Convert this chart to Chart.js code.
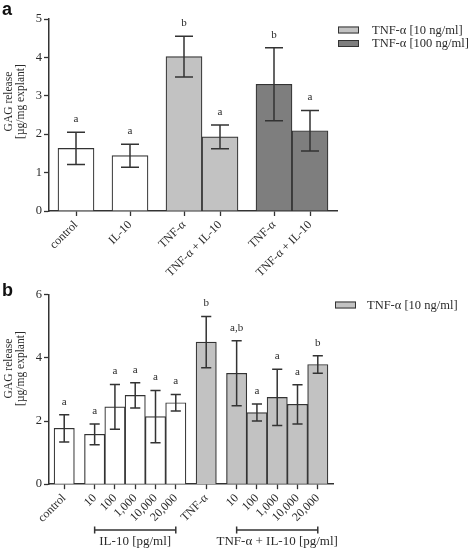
<!DOCTYPE html>
<html><head><meta charset="utf-8">
<script src="https://cdn.jsdelivr.net/npm/chart.js@4/dist/chart.umd.min.js"></script>
<style>
html,body{margin:0;padding:0;background:#fff;width:472px;height:551px;overflow:hidden;position:relative;}
.panel{position:absolute;left:0;width:472px;}
#pa{top:0;height:285px;}
#pb{top:280px;height:271px;}
.lbl{position:absolute;font:bold 18px "Liberation Sans",Arial,sans-serif;color:#111;line-height:18px;}
</style></head><body>
<div class="panel" id="pa"><canvas id="ca"></canvas></div>
<div class="panel" id="pb"><canvas id="cb"></canvas></div>
<div class="lbl" style="left:2px;top:0px">a</div>
<div class="lbl" style="left:2px;top:281px">b</div>
<script>
// ---------- data: panel a ----------
const catsA   = ['control','IL-10','TNF-α','TNF-α + IL-10','TNF-α','TNF-α + IL-10'];
const groupsA = [1,1,2,2];
const meanA   = [1.63,1.44,4.02,1.93,3.30,2.09];
const sdA     = [0.42,0.30,0.53,0.31,0.95,0.53];
const sigA    = ['a','a','b','a','b','a'];
const treatA  = ['none','none','10','10','100','100'];
const seriesA = ['', 'TNF-α [10 ng/ml]', 'TNF-α [100 ng/ml]'];
const yTicksA = [0,1,2,3,4,5];

// ---------- data: panel b ----------
const catsB   = ['control','10','100','1,000','10,000','20,000','TNF-α','10','100','1,000','10,000','20,000'];
const groupsB = [1,5,1,5];
const meanB   = [1.77,1.58,2.45,2.81,2.14,2.58,4.50,3.51,2.27,2.75,2.53,3.79];
const sdB     = [0.43,0.33,0.71,0.40,0.83,0.26,0.81,1.03,0.27,0.89,0.62,0.28];
const sigB    = ['a','a','a','a','a','a','b','a,b','a','a','a','b'];
const treatB  = ['none','none','none','none','none','none','10','10','10','10','10','10'];
const seriesB = ['', 'TNF-α [10 ng/ml]'];
const yTicksB = [0,2,4,6];
const bracketsB = [{label:'IL-10 [pg/ml]', group:1},{label:'TNF-α + IL-10 [pg/ml]', group:3}];
const yTitle = ['GAG release','[µg/mg explant]'];

// ---------- styles ----------
const SERIF = '"Liberation Serif","Times New Roman",serif';
const INK = '#2b2b2b';
const fills = {none:'#ffffff','10':'#c2c2c2','100':'#7e7e7e'};
const keysA = ['none','10','100'];
const keysB = ['none','10'];

// slot layout: bar = 1 unit, gap between groups = 0.5, margin = 0.25
function slots(groups){
  const xs=[], first=[], last=[]; let x=0.25;
  groups.forEach(n=>{ first.push(xs.length); for(let i=0;i<n;i++){ xs.push(x+0.5); x+=1; } last.push(xs.length-1); x+=0.5; });
  return {xs, first, last, max:x-0.25};
}

function datasets(means, sds, sigs, treat, series, keys, pos){
  return series.map((label,k)=>({
    label,
    data: means.map((m,i)=>({x:pos.xs[i], y:m, sd:sds[i], sig:sigs[i], t:treat[i]})).filter(d=>d.t===keys[k]),
    backgroundColor: fills[keys[k]],
    borderColor: '#333', borderWidth: 1.2,
    grouped:false, barPercentage:1, categoryPercentage:1
  }));
}

const errorBars = {
  id:'errorBars',
  afterDatasetsDraw(chart){
    const {ctx, scales:{y}} = chart;
    ctx.save();
    ctx.strokeStyle='#333'; ctx.lineWidth=1.5;
    ctx.fillStyle=INK; ctx.font='11px '+SERIF; ctx.textAlign='center'; ctx.textBaseline='middle';
    chart.data.datasets.forEach((ds,di)=>{
      chart.getDatasetMeta(di).data.forEach((bar,i)=>{
        const d=ds.data[i], x=bar.x, h=bar.width/4;
        const yt=y.getPixelForValue(d.y+d.sd), yb=y.getPixelForValue(d.y-d.sd);
        ctx.beginPath();
        ctx.moveTo(x,yt); ctx.lineTo(x,yb);
        ctx.moveTo(x-h,yt); ctx.lineTo(x+h,yt);
        ctx.moveTo(x-h,yb); ctx.lineTo(x+h,yb);
        ctx.stroke();
        ctx.fillText(d.sig, x, yt-13);
      });
    });
    ctx.restore();
  }
};

const extras = {
  id:'extras',
  afterDraw(chart, args, o){
    const ctx=chart.ctx, ca=chart.chartArea;
    ctx.save();
    // y title
    ctx.fillStyle=INK; ctx.font='11.5px '+SERIF; ctx.textAlign='center'; ctx.textBaseline='middle';
    const cy = ca.top + (ca.bottom-ca.top)*o.titleFrac;
    yTitle.forEach((t,k)=>{ ctx.save(); ctx.translate(o.titleX + k*12, cy); ctx.rotate(-Math.PI/2); ctx.fillText(t,0,0); ctx.restore(); });
    // legend
    ctx.font='12.5px '+SERIF; ctx.textAlign='left';
    let row=0;
    chart.data.datasets.forEach(ds=>{
      if(!ds.label) return;
      const yy = o.legY + row*13.5;
      ctx.fillStyle=ds.backgroundColor; ctx.fillRect(ca.right+o.legDx, yy-3.5, 21, 7);
      ctx.strokeStyle='#333'; ctx.lineWidth=1; ctx.strokeRect(ca.right+o.legDx+0.5, yy-3, 20, 6);
      ctx.fillStyle=INK; ctx.fillText(ds.label, ca.right+o.legDx+o.legText, yy+0.5);
      row++;
    });
    // brackets
    if(o.brackets){
      const xs=chart.scales.x;
      ctx.font='13px '+SERIF;
      ctx.strokeStyle='#333'; ctx.lineWidth=1.5; ctx.textAlign='center'; ctx.fillStyle=INK;
      o.brackets.forEach(b=>{
        const x1=xs.getPixelForValue(o.pos.xs[o.pos.first[b.group]]);
        const x2=xs.getPixelForValue(o.pos.xs[o.pos.last[b.group]]);
        ctx.beginPath();
        ctx.moveTo(x1,o.brY); ctx.lineTo(x2,o.brY);
        ctx.moveTo(x1,o.brY-3.5); ctx.lineTo(x1,o.brY+3.5);
        ctx.moveTo(x2,o.brY-3.5); ctx.lineTo(x2,o.brY+3.5);
        ctx.stroke();
        ctx.fillText(b.label,(x1+x2)/2,o.brY+12);
      });
    }
    ctx.restore();
  }
};

function makeChart(id, cats, pos, ds, yTicks, cfg){
  return new Chart(document.getElementById(id), {
    type:'bar',
    data:{datasets:ds},
    plugins:[errorBars, extras],
    options:{
      responsive:true, maintainAspectRatio:false, animation:false, events:[],
      layout:{padding:{left:0, top:cfg.top, right:cfg.right, bottom:0}},
      plugins:{legend:{display:false}, tooltip:{enabled:false}, extras:cfg.extras},
      scales:{
        x:{ type:'linear', min:0, max:pos.max, offset:false,
            afterBuildTicks:s=>{ s.ticks = pos.xs.map(v=>({value:v})); },
            afterFit:s=>{ s.height = cfg.xh; },
            grid:{display:true, offset:false, drawOnChartArea:false, drawTicks:true, tickLength:5, tickColor:'#333', tickWidth:1.3},
            border:{display:true, color:'#333', width:1.5},
            ticks:{autoSkip:false, maxRotation:45, minRotation:45, padding:2, color:INK,
                   font:{family:SERIF, size:12}, callback:(v,i)=>cats[i]} },
        y:{ min:0, max:yTicks[yTicks.length-1],
            afterBuildTicks:s=>{ s.ticks = yTicks.map(v=>({value:v})); },
            afterFit:s=>{ s.width = 49; },
            grid:{display:true, drawOnChartArea:false, drawTicks:true, tickLength:5, tickColor:'#333', tickWidth:1.3},
            border:{display:true, color:'#333', width:1.5},
            ticks:{padding:2, color:INK, font:{family:SERIF, size:12.5}} }
      }
    }
  });
}

const posA = slots(groupsA);
const posB = slots(groupsB);
makeChart('ca', catsA, posA, datasets(meanA,sdA,sigA,treatA,seriesA,keysA,posA), yTicksA,
  {top:19, right:135, xh:74, extras:{titleX:9, titleFrac:0.43, legY:30, legDx:1, legText:34}});
makeChart('cb', catsB, posB, datasets(meanB,sdB,sigB,treatB,seriesB,keysB,posB), yTicksB,
  {top:14.7, right:139, xh:66.8, extras:{titleX:9, titleFrac:0.39, legY:25, legDx:2, legText:32, brackets:bracketsB, pos:posB, brY:250}});
</script>
</body></html>
